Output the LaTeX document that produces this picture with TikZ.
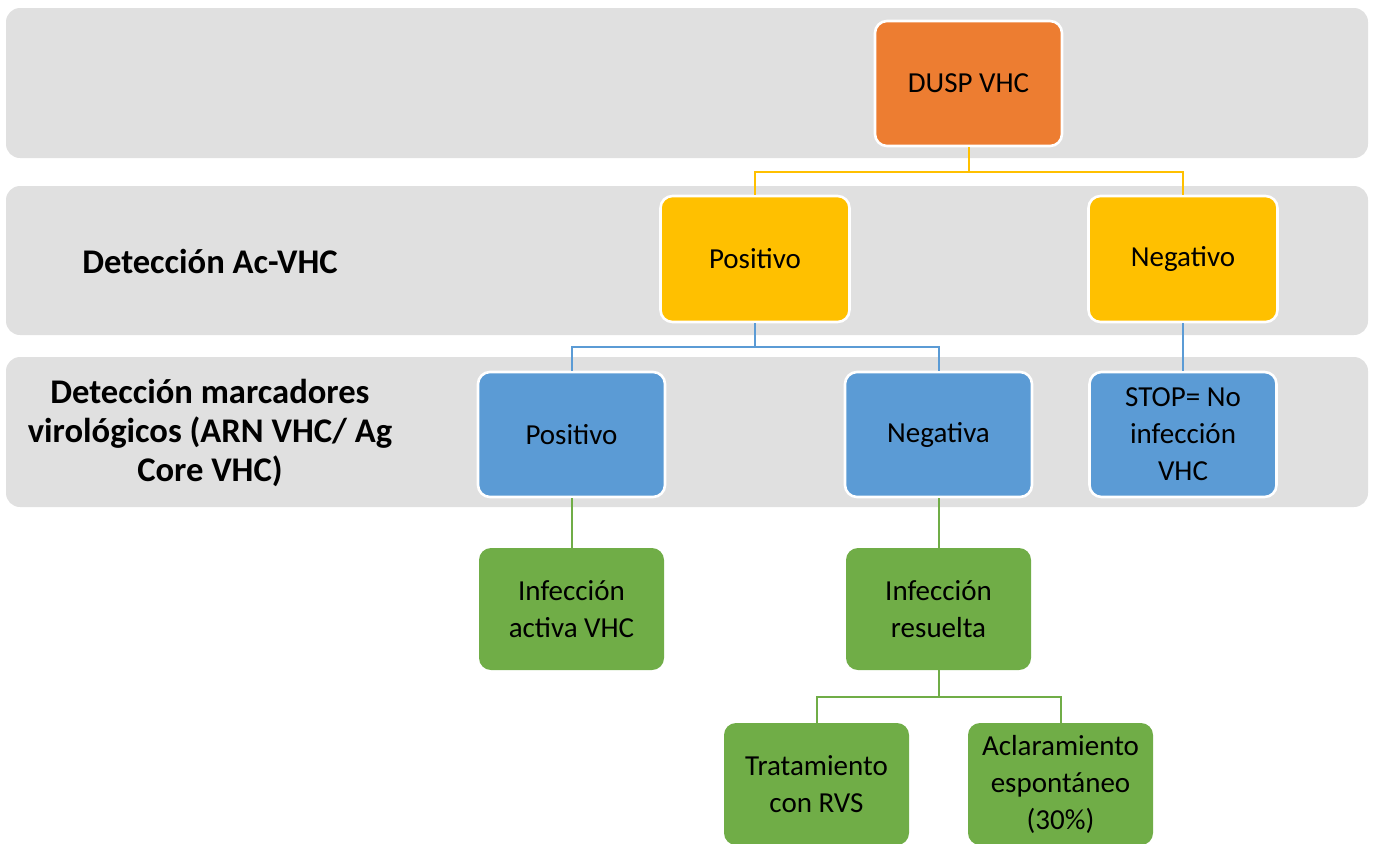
\documentclass[tikz,border=0pt]{standalone}
\usepackage{fontspec}
\setmainfont{Carlito}
\definecolor{bandgray}{HTML}{E0E0E0}
\definecolor{dusporange}{HTML}{ED7D31}
\definecolor{acyellow}{HTML}{FFC000}
\definecolor{markblue}{HTML}{5B9BD5}
\definecolor{resgreen}{HTML}{70AD47}
\tikzset{
    box/.style={rounded corners=6pt, align=center, inner sep=2pt,
        minimum width=93.5pt, minimum height=62.5pt,
        font=\fontsize{14.5}{18.5}\selectfont},
    orangebox/.style={box, fill=dusporange, draw=white, line width=1.3pt},
    yellowbox/.style={box, fill=acyellow, draw=white, line width=1.3pt, minimum width=94.5pt, minimum height=63pt},
    bluebox/.style={box, fill=markblue, draw=white, line width=1.3pt},
    greenbox/.style={box, fill=resgreen, minimum width=92.5pt, minimum height=61pt},
    band/.style={fill=bandgray, rounded corners=7pt},
    lbl/.style={align=center, font=\fontsize{17.3}{19.5}\selectfont\bfseries},
    yline/.style={draw=acyellow, line width=1pt},
    bline/.style={draw=markblue, line width=1pt},
    gline/.style={draw=resgreen, line width=1pt}
}
\begin{document}
\begin{tikzpicture}[x=0.5pt, y=-0.5pt]
    \clip (0,0) rectangle (1375,843);

    % Bands
    \fill[band] (6,8) rectangle (1368,158);
    \fill[band] (6,186) rectangle (1368,335);
    \fill[band] (6,357) rectangle (1368,507);

    % Row labels
    \node[lbl] (acvhc) at (210,261) {Detección Ac-VHC};
    \node[lbl] (markers) at (210,433) {Detección marcadores\\virológicos (ARN VHC/ Ag\\Core VHC)};

    % Boxes
    \node[orangebox] (dusp) at (968.5,83.5) {DUSP VHC};
    \node[yellowbox] (ypos) at (755,259) {Positivo};
    \node[yellowbox] (yneg) at (1183,259) {Negativo};
    \node[bluebox] (bpos) at (571.5,434.5) {Positivo};
    \node[bluebox] (bneg) at (938.5,434.5) {Negativa};
    \node[bluebox] (bstop) at (1183,434.5) {STOP= No\\infección\\VHC};
    \node[greenbox] (gact) at (571.5,609) {Infección\\activa VHC};
    \node[greenbox] (gres) at (938.5,609) {Infección\\resuelta};
    \node[greenbox] (gtrat) at (816.5,784) {Tratamiento\\con RVS};
    \node[greenbox] (gacl) at (1060.5,784) {Aclaramiento\\espontáneo\\(30\%)};

    % Connectors
    \draw[yline] (dusp.south) -- ++(0,25) -| (ypos.north);
    \draw[yline] (dusp.south) -- ++(0,25) -| (yneg.north);
    \draw[bline] (ypos.south) -- ++(0,24) -| (bpos.north);
    \draw[bline] (ypos.south) -- ++(0,24) -| (bneg.north);
    \draw[bline] (yneg.south) -- (bstop.north);
    \draw[gline] (bpos.south) -- (gact.north);
    \draw[gline] (bneg.south) -- (gres.north);
    \draw[gline] (gres.south) -- ++(0,26.5) -| (gtrat.north);
    \draw[gline] (gres.south) -- ++(0,26.5) -| (gacl.north);
\end{tikzpicture}
\end{document}
